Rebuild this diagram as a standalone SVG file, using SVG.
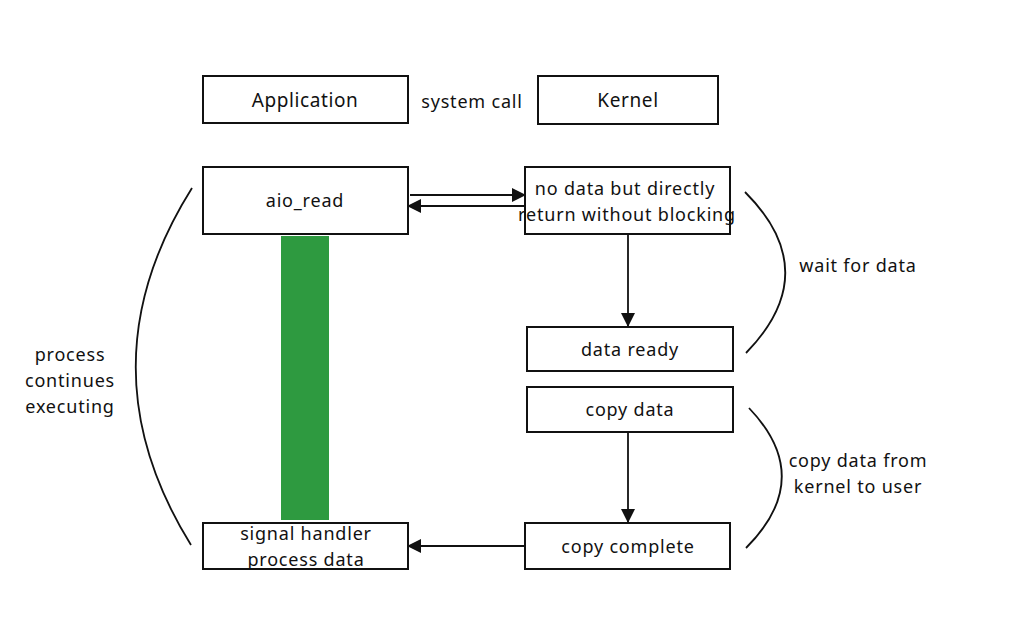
<svg xmlns="http://www.w3.org/2000/svg" width="1024" height="640" viewBox="0 0 1024 640">
<style>
.box{fill:#fff;stroke:#111;stroke-width:2}
.t{font-family:"Noto Sans","Open Sans",sans-serif;font-size:18px;letter-spacing:0.8px;fill:#111;text-anchor:middle}
.h{font-size:19px;letter-spacing:0.6px}
.c{fill:none;stroke:#111;stroke-width:1.8}
.a{fill:none;stroke:#111;stroke-width:1.8}
</style>
<defs>
<marker id="ah" viewBox="0 0 14 14" refX="13" refY="7" markerWidth="14" markerHeight="14" markerUnits="userSpaceOnUse" orient="auto">
<path d="M0,0 L14,7 L0,14 Z" fill="#111"/>
</marker>
</defs>
<rect width="1024" height="640" fill="#fff"/>
<rect x="281" y="236" width="48" height="284" fill="#2e9a40"/>
<g id="application"><rect class="box" x="203" y="76" width="205" height="47"/><text class="t h" x="305" y="107">Application</text></g>
<g id="syscall-label"><text class="t" x="472" y="108">system call</text></g>
<g id="kernel"><rect class="box" x="538" y="76" width="180" height="48"/><text class="t h" x="628" y="107">Kernel</text></g>
<g id="aio_read"><rect class="box" x="203" y="167" width="205" height="67"/><text class="t" x="305" y="207">aio_read</text></g>
<g id="nodata"><rect class="box" x="525" y="167" width="205" height="67"/><text class="t" x="625" y="195">no data but directly</text><text class="t" x="627" y="221">return without blocking</text></g>
<g id="dataready"><rect class="box" x="527" y="327" width="206" height="44"/><text class="t" x="630" y="356">data ready</text></g>
<g id="copydata"><rect class="box" x="527" y="387" width="206" height="45"/><text class="t" x="630" y="416">copy data</text></g>
<g id="copycomplete"><rect class="box" x="525" y="523" width="205" height="46"/><text class="t" x="628" y="553">copy complete</text></g>
<g id="signalhandler"><rect class="box" x="203" y="523" width="205" height="46"/><text class="t" x="306" y="540">signal handler</text><text class="t" x="306" y="566">process data</text></g>
<g id="connectors">
<line class="a" x1="410" y1="195" x2="525" y2="195" marker-end="url(#ah)"/>
<line class="a" x1="525" y1="206" x2="408" y2="206" marker-end="url(#ah)"/>
<line class="a" x1="628" y1="234" x2="628" y2="326" marker-end="url(#ah)"/>
<line class="a" x1="628" y1="432" x2="628" y2="522" marker-end="url(#ah)"/>
<line class="a" x1="525" y1="546" x2="408" y2="546" marker-end="url(#ah)"/>
</g>
<g id="braces">
<path class="c" d="M192,188 Q80,366 191,545"/>
<path class="c" d="M745,192 Q825,272 746,353"/>
<path class="c" d="M749,408 Q816,478 746,548"/>
</g>
<g id="labels">
<text class="t" x="70" y="361">process</text>
<text class="t" x="70" y="387">continues</text>
<text class="t" x="70" y="413">executing</text>
<text class="t" x="858" y="272">wait for data</text>
<text class="t" x="858" y="467">copy data from</text>
<text class="t" x="858" y="493">kernel to user</text>
</g>
</svg>
